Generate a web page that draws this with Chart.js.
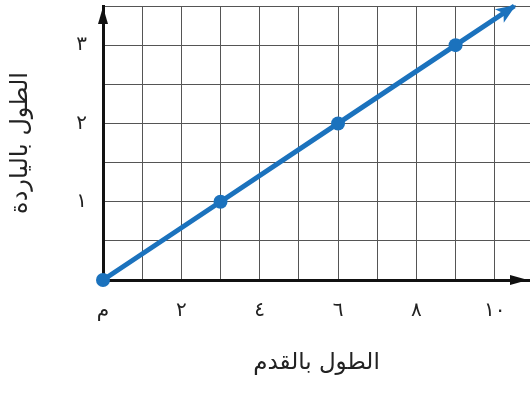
<!DOCTYPE html>
<html>
<head>
<meta charset="utf-8">
<script src="https://cdn.jsdelivr.net/npm/chart.js@4"></script>
<style>
  html, body { margin:0; padding:0; background:#fff; }
  #wrap { width:530px; height:394px; }
</style>
</head>
<body>
<div id="wrap"><canvas id="c" width="530" height="394"></canvas></div>
<script>
// ── data ─────────────────────────────────────────────
const feet   = [0, 3, 6, 9, 10.5];
const yards  = [0, 1, 2, 3, 3.5];
const dotted = [true, true, true, true, false];

const xTickValues = [0, 2, 4, 6, 8, 10];
const xTickText   = ['م', '٢', '٤', '٦', '٨', '١٠'];
const yTickValues = [1, 2, 3];
const yTickText   = ['١', '٢', '٣'];

const xTitle = 'الطول بالقدم';
const yTitle = 'الطول بالياردة';

const BLUE = '#1b72bd';
const FONT = "'DejaVu Sans', sans-serif";

// arrows on axes + line end
const arrows = {
  id: 'arrows',
  afterDatasetsDraw(chart) {
    const { ctx, chartArea: a } = chart;
    ctx.save();
    ctx.fillStyle = '#111';
    // y axis head
    ctx.beginPath();
    ctx.moveTo(a.left, a.top + 1);
    ctx.lineTo(a.left - 5, a.top + 18);
    ctx.lineTo(a.left + 5, a.top + 18);
    ctx.closePath(); ctx.fill();
    // x axis head
    ctx.beginPath();
    ctx.moveTo(a.right - 2, a.bottom);
    ctx.lineTo(a.right - 20, a.bottom - 5);
    ctx.lineTo(a.right - 20, a.bottom + 5);
    ctx.closePath(); ctx.fill();

    // head on the data line
    const pts = chart.getDatasetMeta(0).data;
    const p1 = pts[pts.length - 2], p2 = pts[pts.length - 1];
    const ang = Math.atan2(p2.y - p1.y, p2.x - p1.x);
    ctx.translate(p2.x, p2.y);
    ctx.rotate(ang);
    ctx.fillStyle = BLUE;
    ctx.beginPath();
    ctx.moveTo(2, 0);
    ctx.lineTo(-18, -8);
    ctx.lineTo(-13, 0);
    ctx.lineTo(-18, 8);
    ctx.closePath(); ctx.fill();
    ctx.restore();
  }
};

new Chart(document.getElementById('c'), {
  type: 'scatter',
  data: {
    datasets: [{
      data: feet.map((x, i) => ({ x, y: yards[i] })),
      showLine: true,
      borderColor: BLUE,
      backgroundColor: BLUE,
      borderWidth: 5,
      pointRadius: dotted.map(d => d ? 7 : 0),
      pointBorderWidth: 0,
      clip: false
    }]
  },
  options: {
    responsive: false,
    animation: false,
    layout: { autoPadding: false, padding: { top: 6, right: 0, bottom: 0, left: 0 } },
    plugins: { legend: { display: false }, tooltip: { enabled: false } },
    scales: {
      x: {
        type: 'linear', min: 0, max: 10.9,
        afterBuildTicks: s => { s.ticks = Array.from({ length: 11 }, (_, i) => ({ value: i })); },
        afterFit: s => { s.height = 114; s.paddingLeft = 0; s.paddingRight = 0; },
        grid: { color: '#555', lineWidth: 1, drawTicks: false },
        border: { color: '#111', width: 3 },
        ticks: {
          padding: 19, maxRotation: 0, autoSkip: false,
          color: '#222', font: { family: FONT, size: 20 },
          callback: v => { const i = xTickValues.indexOf(v); return i < 0 ? '' : xTickText[i]; }
        },
        title: {
          display: true, text: xTitle, color: '#222',
          font: { family: FONT, size: 23 }, padding: { top: 0, bottom: 17 }
        }
      },
      y: {
        type: 'linear', min: 0, max: 3.5,
        afterBuildTicks: s => { s.ticks = Array.from({ length: 8 }, (_, i) => ({ value: i * 0.5 })); },
        afterFit: s => { s.width = 103; s.paddingTop = 0; s.paddingBottom = 0; },
        grid: { color: '#555', lineWidth: 1, drawTicks: false },
        border: { color: '#111', width: 3 },
        ticks: {
          padding: 16, autoSkip: false,
          color: '#222', font: { family: FONT, size: 20 },
          callback: v => { const i = yTickValues.indexOf(v); return i < 0 ? '' : yTickText[i]; }
        },
        title: {
          display: true, text: yTitle, color: '#222',
          font: { family: FONT, size: 24 }, padding: { top: 6, bottom: 0 }
        }
      }
    }
  },
  plugins: [arrows]
});
</script>
</body>
</html>
